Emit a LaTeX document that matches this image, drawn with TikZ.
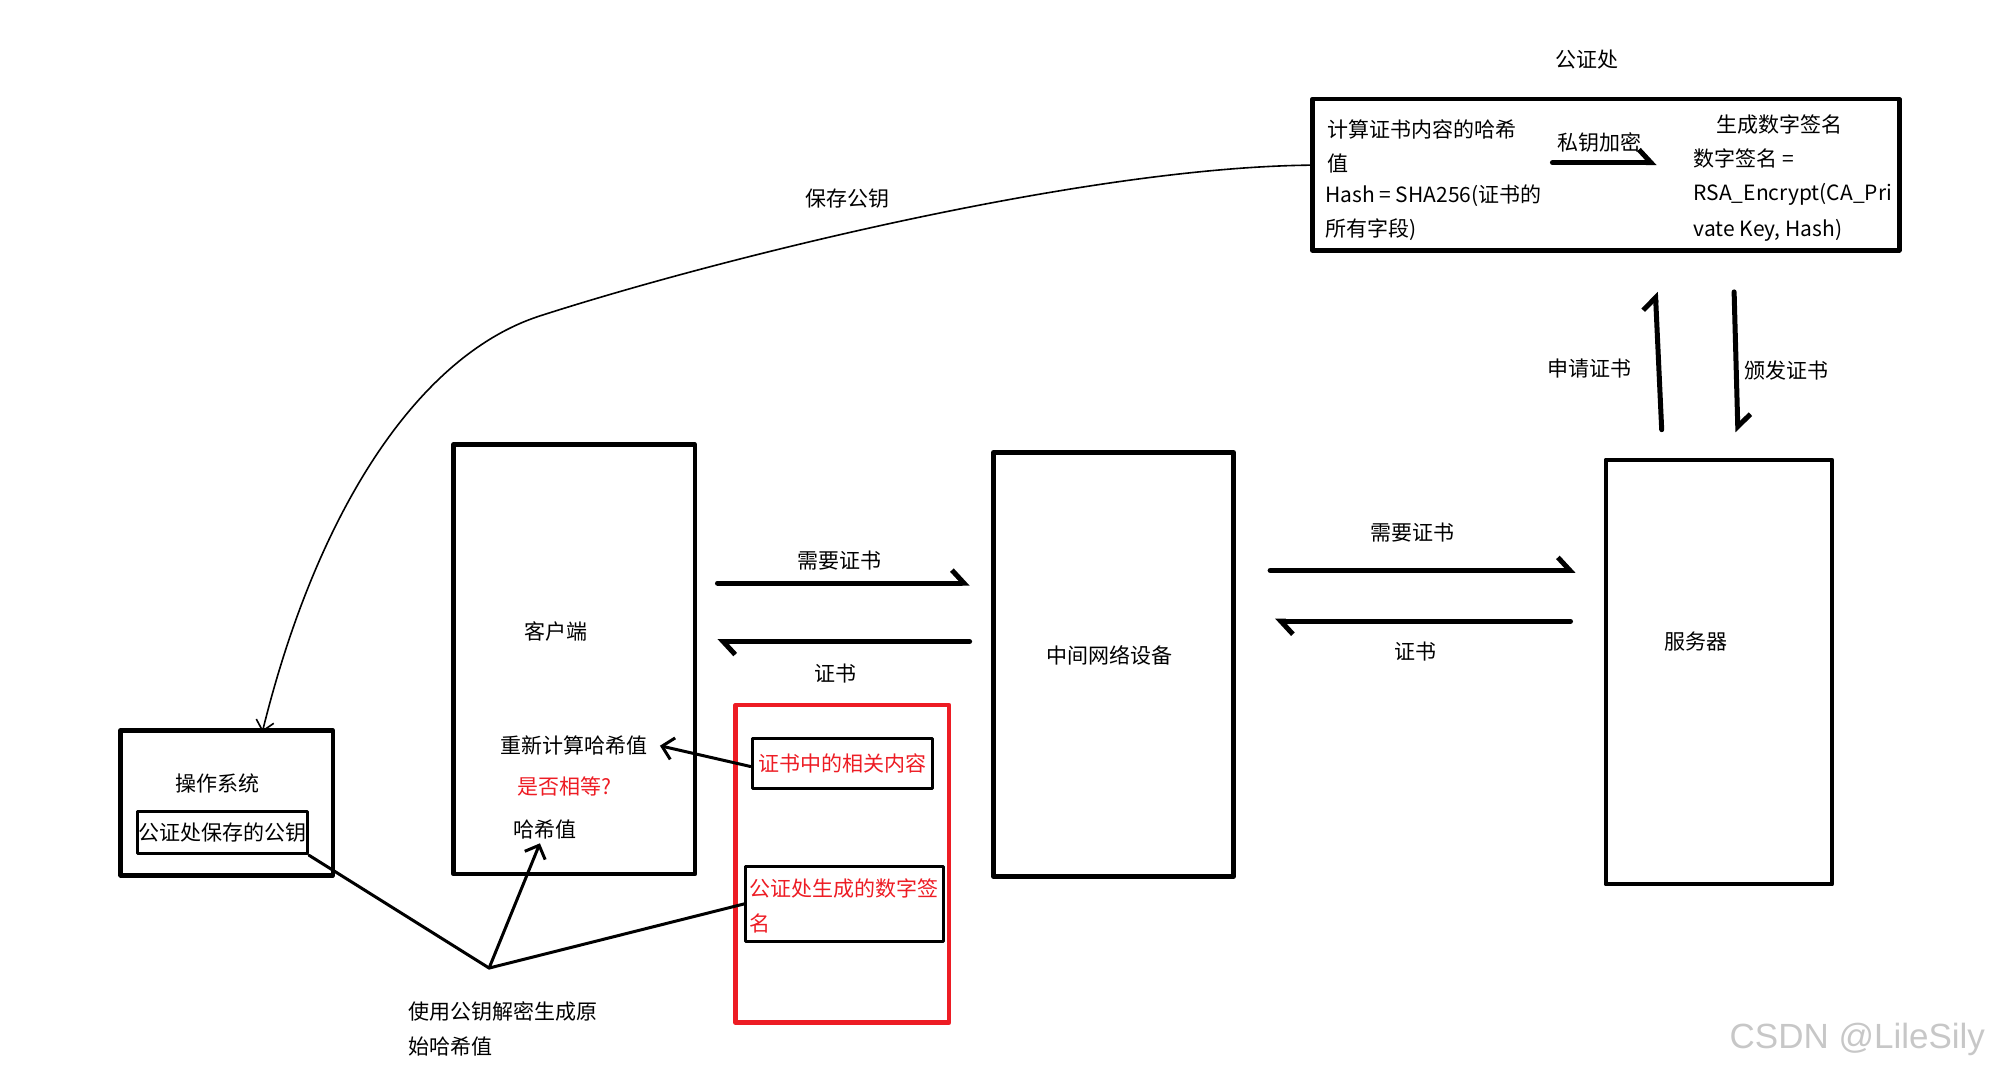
\documentclass[tikz,border=0pt]{standalone}
\usepackage{fontspec}
\setmainfont{Noto Sans CJK SC}
\newfontfamily\markfont{Liberation Sans}
\usetikzlibrary{arrows.meta}
\definecolor{paintred}{RGB}{237,28,36}
\tikzset{ wh/.style 2 args = { minimum width = #1*1.2704pt % box size
        , minimum height = #2*1.2704pt
        }
        , txt/.style = { rectangle % plain text
        , inner sep = 0pt
        , font = \fontsize{21pt}{25pt}\selectfont
        }
        , redtxt/.style = { txt % red text
        , text = paintred
        }
        }
\begin{document}
\begin{tikzpicture}[x=1.2704pt, y=-1.2704pt, line cap=round, line join=round,
        box_style/.style={rectangle, draw, line width=4.5pt, inner sep=0pt},
        inner_box_style/.style={rectangle, draw, line width=3pt, inner sep=0pt, font=\fontsize{21pt}{25pt}\selectfont},
        edge_style/.style={draw=black, line width=5pt, -{Straight Barb[harpoon, length=12pt, width=26pt]}},
        line_style/.style={draw=black, line width=3pt},
        tip_style/.style={draw=black, line width=3pt, -{Straight Barb[length=11pt, width=22pt]}},
        curve_style/.style={draw=black, line width=1.6pt, -{Straight Barb[length=10pt, width=18pt]}}]
        \useasboundingbox (0,0) rectangle (1568,844.6);

        % boxes
        \node [box_style, wh={462}{119}] (ca) at (1264,137.5) {};
        \node [box_style, wh={167}{114}] (os) at (178.5,632) {};
        \node [box_style, wh={190}{338}] (client) at (452,519) {};
        \node [box_style, wh={189}{334}] (mid) at (876.5,523) {};
        \node [box_style, wh={178}{334}] (server) at (1353,529) {};
        \node [box_style, draw=paintred, wh={168}{250}] (redbox) at (663,680) {};
        \node [inner_box_style, wh={134}{33}] (pk) at (175,655.5) {公证处保存的公钥};
        \node [inner_box_style, text=paintred, wh={142}{40}] (cert) at (663,601) {证书中的相关内容};
        \node [inner_box_style, wh={156}{59}] (sig) at (665,711.5) {};

        % texts
        \node [txt] (catitle) at (1249,47) {公证处};
        \node [txt, anchor=west] (h1) at (1045,102) {计算证书内容的哈希};
        \node [txt, anchor=west] (h2) at (1045,129) {值};
        \node [txt, anchor=west] (h3) at (1043,154) {Hash = SHA256(证书的};
        \node [txt, anchor=west] (h4) at (1043,181) {所有字段)};
        \node [txt] (enc) at (1259,112) {私钥加密};
        \node [txt] (s1) at (1401,98) {生成数字签名};
        \node [txt, anchor=west] (s2) at (1333,125) {数字签名 =};
        \node [txt, anchor=west] (s3) at (1333,153) {RSA\_Encrypt(CA\_Pri};
        \node [txt, anchor=west] (s4) at (1333,181) {vate Key, Hash)};
        \node [txt] (apply) at (1251,290) {申请证书};
        \node [txt] (issue) at (1406,292) {颁发证书};
        \node [txt] (need1) at (661,441) {需要证书};
        \node [txt] (cert1) at (658,530) {证书};
        \node [txt] (need2) at (1112,419) {需要证书};
        \node [txt] (cert2) at (1114,513) {证书};
        \node [txt] (clientlbl) at (438,497) {客户端};
        \node [txt] (recalc) at (452,587) {重新计算哈希值};
        \node [redtxt] (equal) at (444,619) {是否相等?};
        \node [txt] (hashv) at (429,653) {哈希值};
        \node [txt] (midlbl) at (873,516) {中间网络设备};
        \node [txt] (serverlbl) at (1335,505) {服务器};
        \node [txt] (oslbl) at (171,617) {操作系统};
        \node [redtxt, anchor=west] (g1) at (590,699) {公证处生成的数字签};
        \node [redtxt, anchor=west] (g2) at (590,727) {名};
        \node [txt, anchor=west] (d1) at (321,796) {使用公钥解密生成原};
        \node [txt, anchor=west] (d2) at (321,824) {始哈希值};
        \node [txt] (savekey) at (667,156) {保存公钥};
        \node [inner sep=0pt, text=black!22, font=\markfont\fontsize{35pt}{40pt}\selectfont] (mark) at (1462,818) {CSDN @LileSily};

        % arrows
        \draw [edge_style] ([shift={(-42,-9.5)}]ca.center) -- ([shift={(40,-9.5)}]ca.center);
        \draw [edge_style] ([shift={(16,-60)}]client.east) -- ([shift={(-17,-64)}]mid.west);
        \draw [edge_style] ([shift={(-17,-18)}]mid.west) -- ([shift={(16,-14)}]client.east);
        \draw [edge_style] ([shift={(27,-74)}]mid.east) -- ([shift={(-22,-80)}]server.west);
        \draw [edge_style] ([shift={(-26,-40)}]server.west) -- ([shift={(31,-34)}]mid.east);
        \draw [edge_style] ([shift={(-45,-22)}]server.north) -- ([shift={(39,31)}]ca.south);
        \draw [edge_style] ([shift={(101,31)}]ca.south) -- ([shift={(15,-20)}]server.north);

        % save key curve
        \coordinate (bend) at (424,249);
        \draw [curve_style] ([shift={(0,-7.5)}]ca.west) .. controls (850,132) and (560,205) .. (bend) .. controls (330,280) and (250,400) .. ([shift={(28,3)}]os.north);

        % decrypt lines
        \coordinate (jn) at (385,762);
        \draw [line_style] (pk.south east) -- (jn);
        \draw [line_style] (sig.west) -- (jn);
        \draw [tip_style] (jn) -- ([shift={(-4,3)}]hashv.south);
        \draw [tip_style] ([yshift=-3]cert.west) -- ([xshift=12]recalc.east);
\end{tikzpicture}
\end{document}
